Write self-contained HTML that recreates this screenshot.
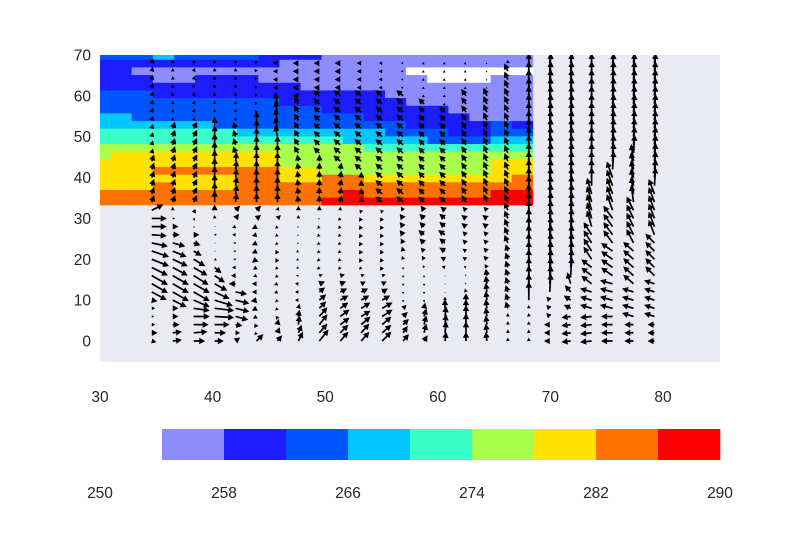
<!DOCTYPE html>
<html><head><meta charset="utf-8"><style>
body{margin:0;background:#fff}
svg{display:block;font-family:"Liberation Sans",sans-serif}
</style></head><body>
<svg id="chart" width="800" height="550" viewBox="0 0 800 550">
<defs><clipPath id="plotclip"><rect x="100" y="55" width="620" height="307"/></clipPath></defs>
<rect x="100" y="55" width="620" height="307" fill="#eaeaf2"/>
<g id="mesh" clip-path="url(#plotclip)"></g>
<g id="quiver" clip-path="url(#plotclip)"></g>
<g id="xticks"></g>
<g id="yticks"></g>
<g id="cbar"></g>
</svg>
<script>
const levelBounds=[250,254,258,262,266,270,274,278,282,286,290];
const levelColors=["#ffffff","#8c8cff","#1c1cff","#0055ff","#00c8ff","#3affc8","#aaff4d","#ffe200","#ff7100","#ff0000"];
const cbarTicks=[250,258,266,274,282,290];
const xTicks=[30,40,50,60,70,80];
const yTicks=[0,10,20,30,40,50,60,70];
const meshX0=30, meshDX=1.875, meshY0=34.24, meshDY=1.875;
const L=256,B=260,M=264,C=268,T=272,G=276,Y=280,O=284,R=288,W=252;
const meshRows=[
[O,O,O,O,O,O,O,O,O,O,O,R,R,R,R,R,R,R,R,R,R],
[O,O,O,O,O,O,O,O,O,O,O,O,R,O,O,O,O,O,O,R,R],
[Y,Y,Y,O,Y,Y,Y,O,O,O,O,O,O,O,O,O,O,O,O,O,O],
[Y,Y,Y,Y,Y,Y,Y,O,O,Y,Y,O,O,Y,Y,Y,Y,Y,Y,Y,O],
[Y,Y,Y,O,O,O,O,O,O,Y,Y,G,G,G,G,G,G,G,G,Y,Y],
[Y,Y,Y,Y,Y,Y,Y,Y,Y,G,G,G,G,G,G,G,G,G,G,Y,Y],
[G,Y,Y,Y,Y,Y,Y,Y,Y,G,G,G,G,G,G,G,G,G,G,G,G],
[G,G,G,G,G,G,G,G,G,G,G,G,G,T,T,T,T,T,T,T,T],
[T,T,T,T,T,T,T,T,T,T,T,T,C,C,C,C,M,M,M,C,C],
[T,T,T,T,T,T,T,C,C,C,C,C,C,C,M,M,M,B,B,M,M],
[C,C,C,C,C,C,M,M,M,M,M,M,M,M,M,B,B,B,B,M,B],
[C,C,M,M,M,M,M,M,M,M,M,M,M,B,B,B,B,B,L,L,L],
[M,M,M,M,M,M,M,M,M,M,M,B,B,B,B,B,B,L,L,L,L],
[M,M,M,M,M,M,M,M,M,B,B,B,B,B,B,L,L,L,L,L,L],
[M,M,M,B,B,B,B,B,B,B,B,B,B,B,L,L,L,L,L,L,L],
[B,B,B,B,B,B,B,B,B,B,L,L,L,L,L,L,L,L,L,L,L],
[B,B,B,L,L,B,B,B,L,L,L,L,L,L,L,L,W,W,W,L,L],
[B,B,L,L,L,L,L,L,L,L,L,L,L,L,L,W,W,W,W,W,W],
[B,B,B,B,B,B,B,B,B,L,L,L,L,L,L,L,L,L,L,L,L],
[M,M,M,C,M,M,M,M,B,B,B,L,L,L,L,L,L,L,L,L,L]];
const quiverX=[34.6,36.46,38.32,40.18,42.04,43.9,45.76,47.62,49.48,51.34,53.2,55.06,56.92,58.78,60.64,62.5,64.36,66.22,68.08,69.94,71.8,73.66,75.52,77.38,79.24];
const quiverY=[0,2,4,6,8,10,12,14,16,18,20,22,24,26,28,30,32,34,36,38,40,42,44,46,48,50,52,54,56,58,60,62,64,66,68];
const quiverU=[
[4,5,3,2,3,5,13,14,14,14,15,15,14,13,13,13,10,2,2,2,2,2,2,1,1,1,1,1,1,1,1,1,1,1,1],
[8,8,6,5,5,12,14,14,14,13,13,12,11,6,5,2,0,2,2,2,2,2,2,2,2,2,2,0,0,0,0,0,0,0,0],
[10,12,13,14,14,14,14,14,13,12,10,7,6,5,1,1,2,3,3,3,3,3,3,3,3,3,3,1,1,1,1,1,1,1,1],
[8,10,13,17,17,16,13,11,9,6,2,1,1,2,1,0,0,0,0,0,0,0,0,0,0,0,0,0,0,0,0,0,0,0,0],
[4,4,6,11,12,12,10,-6,-4,-3,-2,-2,-2,-3,-3,3,4,1,1,1,1,1,1,-2,-2,-2,-2,0,0,0,0,0,0,0,0],
[6,-2,-2,-3,-4,-5,-4,-4,-3,-3,-4,-4,-4,-4,-4,4,4,0,0,0,0,0,0,0,0,0,0,0,-2,-2,-2,-2,-2,-2,-2],
[4,2,1,-1,-2,-2,-3,-3,-2,-2,-2,-2,-2,-2,-2,3,1,0,0,0,0,0,0,0,0,-2,-2,-2,-2,-2,-4,-4,-4,-4,-4],
[4,3,1,1,1,-3,-3,-3,-2,-2,-2,-2,-1,-1,-1,0,0,-1,-1,-1,-1,-1,-1,-4,-4,-4,-4,-4,-4,-4,-5,-5,-5,-5,-5],
[8,7,7,7,6,6,5,5,3,-2,-2,-2,-2,-2,-2,-1,0,0,0,0,0,0,0,-5,-5,-5,-5,-5,-5,-5,-5,-5,-5,-5,-5],
[7,7,8,8,7,7,6,5,4,-2,-2,-2,-2,-2,-2,-2,0,1,1,1,1,1,-6,-6,-6,-6,-6,-6,-6,-6,-6,-5,-5,-5,-5],
[7,7,8,8,8,7,6,4,3,-2,-2,-2,-2,-2,-2,-2,-1,0,0,0,0,-6,-6,-6,-6,-6,-6,-6,-6,-6,-6,-4,-4,-4,-4],
[8,8,8,9,9,7,5,4,3,-2,-2,-2,-2,-2,-2,-2,-1,-6,-6,-6,-6,-6,-6,-6,-6,-6,-6,-6,-6,-6,-6,-3,-3,-3,-3],
[5,4,5,4,3,0,0,0,0,0,-1,-1,-2,-3,-3,-3,-2,-6,-6,-6,-6,-6,-6,-6,-6,-6,-6,-6,-6,-6,-6,-2,-2,-2,-2],
[3,2,2,2,1,0,0,0,0,-1,-2,-3,-4,-5,-4,-4,-3,-5,-5,-5,-5,-5,-5,-5,-5,-5,-5,-5,-5,-5,-2,-2,-2,-2,-2],
[1,1,1,1,0,0,0,0,0,-3,-4,-5,-5,-6,-5,-5,-4,-5,-5,-5,-5,-5,-5,-5,-5,-5,-5,-5,-5,-2,-2,-2,-2,-2,-2],
[0,0,0,0,0,0,-1,-1,-1,-2,-3,-3,-3,-3,-4,-4,-3,-4,-4,-4,-4,-4,-4,-4,-4,-4,-4,-4,-4,-4,-4,-2,-2,-2,-2],
[-1,-1,-1,-1,-1,-1,-1,-1,-1,-2,-3,-3,-3,-3,-4,-4,-3,-3,-3,-3,-3,-3,-3,-3,-3,-3,-3,-3,-3,-3,-3,-1,-1,-1,-1],
[0,0,0,0,-2,-2,-2,-2,-2,-2,-2,-2,-3,-3,-3,-3,-3,-3,-3,-3,-3,-3,-3,-3,-3,-3,-3,-3,-3,-3,-3,-3,-3,-3,0],
[0,0,0,0,0,0,0,0,0,0,0,0,0,0,0,0,0,0,0,0,0,0,0,0,0,0,0,0,0,0,0,0,0,0,0],
[-5,-5,-5,-3,-3,-3,1,1,1,1,1,1,1,1,1,1,1,1,1,1,1,1,1,1,1,1,1,1,1,1,1,1,1,1,1],
[-8,-8,-8,-8,-6,-6,-5,-3,1,1,1,1,1,1,1,1,1,1,1,1,1,1,1,1,1,1,1,1,1,1,1,1,1,1,1],
[-10,-10,-10,-10,-10,-10,-10,-9,-9,-9,-7,-7,-7,-7,-4,-4,-4,-4,-4,0,0,0,0,0,0,0,0,0,0,0,0,0,0,0,0],
[-10,-10,-10,-10,-11,-11,-11,-11,-10,-10,-10,-10,-8,-8,-8,-8,-5,-5,-5,-5,-5,1,1,1,1,1,1,1,1,1,1,1,1,1,1],
[-8,-8,-8,-10,-10,-10,-10,-9,-9,-9,-9,-9,-6,-6,-6,-6,-6,-2,-2,-2,-2,-2,-2,1,1,1,1,1,1,1,1,1,1,1,1],
[-6,-6,-6,-9,-9,-9,-9,-9,-8,-8,-8,-8,-8,-5,-5,-5,-5,-5,-5,1,1,1,1,1,1,1,1,1,1,1,1,1,1,1,1]];
const quiverV=[
[-1,0,0,0,0,-1,-7,-8,-8,-7,-6,-5,-3,-1,0,0,5,6,6,6,6,6,6,4,4,4,4,4,4,4,4,4,4,4,4],
[1,1,0,0,0,-6,-8,-8,-8,-7,-6,-5,-3,0,0,0,3,6,6,6,6,6,6,6,6,6,6,3,3,3,3,3,3,3,3],
[0,1,0,0,-2,-6,-8,-8,-8,-7,-6,-4,-2,0,-1,-2,-3,6,6,6,6,6,6,6,6,6,6,3,3,3,3,3,3,3,3],
[0,0,0,-1,-2,-5,-6,-6,-6,-5,-1,0,0,0,0,3,5,10,10,10,10,10,10,10,10,10,10,3,3,3,3,3,3,3,3],
[3,0,-1,-3,-3,-3,-2,0,0,0,0,0,0,0,-1,4,4,8,8,8,8,8,8,6,6,6,6,3,3,3,3,3,3,3,3],
[6,-2,-3,-2,-2,-1,0,0,-1,-2,-3,-2,-2,-1,-2,3,4,8,8,8,8,8,8,8,8,8,8,8,2,2,2,2,2,2,2],
[5,5,5,-3,-2,-2,-1,-1,-2,-2,-3,-3,-2,-2,-2,3,3,8,8,8,8,8,8,8,8,10,10,10,10,10,0,0,0,0,0],
[8,7,8,6,4,0,0,0,0,-1,-1,-1,-1,-1,-1,3,4,6,6,6,6,6,6,6,6,6,6,6,6,6,0,0,0,0,0],
[10,8,9,8,6,5,4,2,1,-2,-2,-2,-2,-2,-2,-1,4,6,6,6,6,6,6,5,5,5,5,5,5,5,5,0,0,0,0],
[8,7,6,6,5,4,3,2,1,-2,-2,-2,-2,-2,-2,-2,3,6,6,6,6,6,5,5,5,5,5,5,5,5,5,0,0,0,0],
[8,8,7,5,5,4,3,2,1,-2,-3,-3,-3,-3,-3,-3,-3,5,5,5,5,5,5,5,5,5,5,5,5,5,5,0,0,0,0],
[8,7,7,6,5,4,3,2,1,-3,-3,-3,-3,-3,-3,-3,-3,5,5,5,5,5,5,5,5,5,5,5,5,5,5,0,0,0,0],
[6,6,5,4,3,-2,-2,-2,-2,-2,3,4,4,4,4,4,3,5,5,5,5,5,5,5,5,5,5,5,5,5,5,0,0,0,0],
[5,8,8,7,5,-2,-2,-2,-2,2,3,3,4,4,4,4,4,5,5,5,5,5,5,5,5,5,5,5,5,5,-1,-1,-1,-1,-1],
[8,10,9,9,8,3,-1,-1,-1,1,2,3,4,4,4,4,3,5,5,5,5,5,5,5,5,5,5,5,5,-1,-1,-1,-1,-1,-1],
[8,10,10,10,8,6,3,1,1,1,2,2,3,3,3,3,3,6,6,6,6,6,6,6,6,6,6,6,6,6,6,-1,-1,-1,-1],
[8,8,8,8,8,8,8,7,6,3,3,3,3,3,3,3,3,7,7,7,7,7,7,7,7,7,7,7,7,7,7,-1,-1,-1,-1],
[3,3,3,3,6,6,6,6,6,6,6,6,7,7,7,7,7,7,7,7,7,7,7,7,7,7,7,7,7,7,7,7,7,7,3],
[3,3,3,3,3,16,16,16,16,16,16,16,16,16,16,16,16,16,16,16,16,16,16,16,16,16,16,16,16,16,16,16,16,16,16],
[0,0,0,3,3,3,16,16,16,16,16,16,16,16,16,16,16,16,16,16,16,16,16,16,16,16,16,16,16,16,16,16,16,16,16],
[-1,-1,-1,-1,3,4,6,10,16,16,16,16,16,16,16,16,16,16,16,16,16,16,16,16,16,16,16,16,16,16,16,16,16,16,16],
[-1,-1,-1,-1,3,3,3,7,7,7,11,11,11,11,14,14,14,14,14,16,16,16,16,16,16,16,16,16,16,16,16,16,16,16,16],
[0,0,0,0,3,3,3,3,7,7,7,7,11,11,11,11,14,14,14,14,14,16,16,16,16,16,16,16,16,16,16,16,16,16,16],
[0,0,0,3,3,3,3,8,8,8,8,8,12,12,12,12,12,15,15,15,15,15,15,16,16,16,16,16,16,16,16,16,16,16,16],
[0,0,0,3,3,3,3,3,8,8,8,8,8,13,13,13,13,13,13,16,16,16,16,16,16,16,16,16,16,16,16,16,16,16,16]];

const NS="http://www.w3.org/2000/svg";
const px=x=>100+(x-30)*11.26;
const py=y=>341-y*4.086;
const arrowScale=1.15;
function mk(tag,attrs,parent){const e=document.createElementNS(NS,tag);for(const k in attrs)e.setAttribute(k,attrs[k]);parent.appendChild(e);return e;}
function colorFor(v){for(let i=0;i<levelColors.length;i++){if(v<levelBounds[i+1])return levelColors[i];}return levelColors[levelColors.length-1];}

const mesh=document.getElementById('mesh');
meshRows.forEach((row,j)=>{row.forEach((v,i)=>{
  const xc=meshX0+meshDX*i, yc=meshY0+meshDY*j;
  const x0=px(xc-meshDX/2), x1=px(xc+meshDX/2), y0=py(yc+meshDY/2), y1=py(yc-meshDY/2);
  const r=mk('rect',{x:x0.toFixed(2),y:y0.toFixed(2),width:(x1-x0+0.4).toFixed(2),height:(y1-y0+0.4).toFixed(2),fill:colorFor(v)},mesh);
  
  
});});

const quiver=document.getElementById('quiver');
quiverX.forEach((xv,i)=>{quiverY.forEach((yv,j)=>{
  const u=quiverU[i][j]*arrowScale, v=quiverV[i][j]*arrowScale;
  const len=Math.hypot(u,v); if(len<0.3)return;
  let hl=6,hw=3.2,sw=0.85,s=1;
  if(len<hl){s=len/hl;}
  const Ls=len/s;
  const pts=[[0,-sw],[Ls-hl,-sw],[Ls-hl,-hw],[Ls,0],[Ls-hl,hw],[Ls-hl,sw],[0,sw]];
  const ang=Math.atan2(-v,u), ca=Math.cos(ang), sa=Math.sin(ang);
  const tx=px(xv), ty=py(yv);
  const p=pts.map(([a,b])=>{a*=s;b*=s;return (tx+a*ca-b*sa).toFixed(2)+','+(ty+a*sa+b*ca).toFixed(2);}).join(' ');
  const poly=mk('polygon',{points:p,fill:'#000'},quiver);
  
  
});});

const xt=document.getElementById('xticks');
xTicks.forEach(t=>{const e=mk('text',{x:px(t),y:402,'text-anchor':'middle','font-size':'15.5',fill:'#262626'},xt);e.textContent=t;
  });
const yt=document.getElementById('yticks');
yTicks.forEach(t=>{const e=mk('text',{x:91,y:py(t)+5.5,'text-anchor':'end','font-size':'15.5',fill:'#262626'},yt);e.textContent=t;
  });

const cb=document.getElementById('cbar');
const cx=v=>100+(v-250)*15.5;
for(let k=1;k<levelColors.length;k++){
  const r=mk('rect',{x:cx(levelBounds[k]).toFixed(2),y:429,width:(cx(levelBounds[k+1])-cx(levelBounds[k])+0.3).toFixed(2),height:31,fill:levelColors[k]},cb);
  
}
cbarTicks.forEach(t=>{const e=mk('text',{x:cx(t),y:498,'text-anchor':'middle','font-size':'15.5',fill:'#262626'},cb);e.textContent=t;
  });
</script>
</body></html>
